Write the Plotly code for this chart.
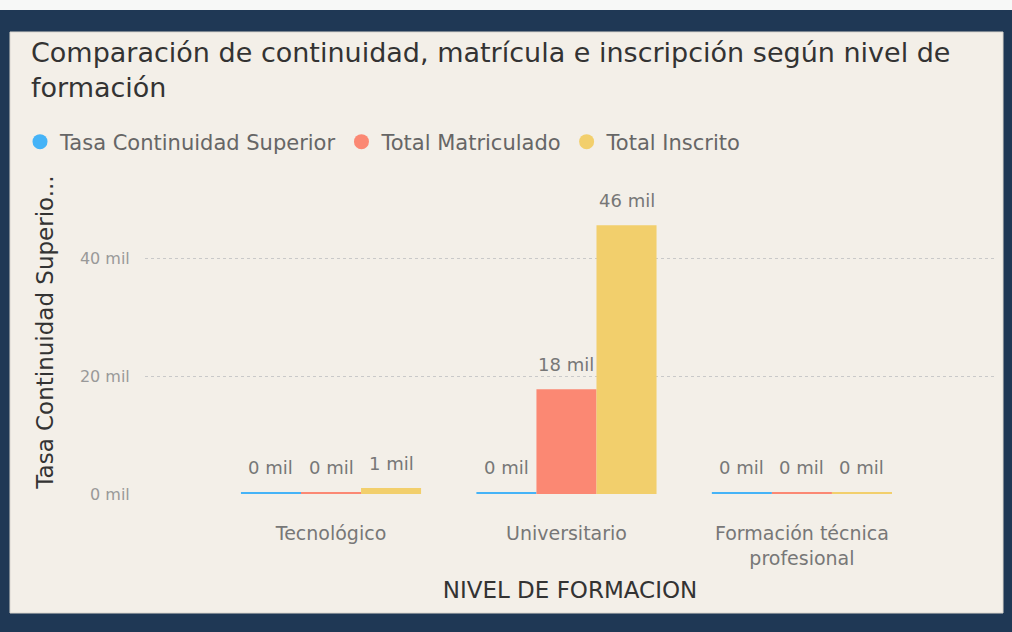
import plotly.graph_objects as go

W, H = 1012, 632

categories = ["Tecnológico", "Universitario", "Formación técnica<br>profesional"]
series_names = ["Tasa Continuidad Superior", "Total Matriculado", "Total Inscrito"]
# values in thousands ("mil")
tasa_continuidad = [0.3, 0.3, 0.3]
total_matriculado = [0.3, 17.8, 0.3]
total_inscrito = [1.0, 45.6, 0.3]
y_ticks = [0, 20, 40]
y_tick_labels = ["0 mil", "20 mil", "40 mil"]

colors = ["#45B3F7", "#FB8873", "#F2CF6C"]
series_values = [tasa_continuidad, total_matriculado, total_inscrito]

BARGAP = 0.235
FONT = "DejaVu Sans"

def px(x):
    return x / W

def py(y):
    return 1 - y / H

fig = go.Figure()
for name, vals, col in zip(series_names, series_values, colors):
    fig.add_trace(go.Bar(
        x=categories, y=vals, name=name, marker_color=col,
        marker_line_width=0, showlegend=False, hoverinfo="x+y+name",
    ))
for name, col in zip(series_names, colors):
    fig.add_trace(go.Scatter(
        x=[None], y=[None], mode="markers", name=name,
        marker=dict(symbol="circle", size=15, color=col),
    ))

# data labels above each bar, positioned in data coordinates
n = len(series_values)
w = (1 - BARGAP) / n
annotations = []
for j, vals in enumerate(series_values):
    for i, v in enumerate(vals):
        annotations.append(dict(
            x=i + (j - (n - 1) / 2) * w, y=v, xref="x", yref="y",
            text=f"{v:.0f} mil", showarrow=False, yanchor="bottom",
            yshift=12, font=dict(family=FONT, size=18, color="#777777"),
        ))

shapes = [
    dict(type="rect", xref="paper", yref="paper", x0=0, x1=1, y0=py(10), y1=1,
         fillcolor="#F7F8F7", line_width=0, layer="below"),
    dict(type="rect", xref="paper", yref="paper", x0=px(10), x1=px(1003), y0=py(613), y1=py(32),
         fillcolor="#F3EFE8", line=dict(color="#DAD6CF", width=1), layer="below"),
]

fig.update_layout(
    width=W, height=H,
    margin=dict(l=0, r=0, t=0, b=0, pad=0, autoexpand=False),
    paper_bgcolor="#1F3855", plot_bgcolor="rgba(0,0,0,0)",
    shapes=shapes, annotations=annotations,
    barmode="group", bargap=BARGAP, bargroupgap=0,
    font=dict(family=FONT, color="#666666"),
    title=dict(
        text="Comparación de continuidad, matrícula e inscripción según nivel de<br>formación",
        x=px(31), xanchor="left", y=py(62), yanchor="middle",
        font=dict(family=FONT, size=27, color="#333333"),
    ),
    legend=dict(
        orientation="h", x=px(20), xanchor="left", y=py(142), yanchor="middle",
        font=dict(family=FONT, size=21, color="#666666"),
        bgcolor="rgba(0,0,0,0)", itemwidth=30,
    ),
    xaxis=dict(
        domain=[px(145), px(995)], range=[-0.79, 2.82],
        showgrid=False, zeroline=False, showline=False,
        ticks="outside", ticklen=22, tickcolor="rgba(0,0,0,0)",
        tickfont=dict(family=FONT, size=19, color="#777777"),
        title=dict(text="NIVEL DE FORMACION", standoff=14,
                   font=dict(family=FONT, size=23, color="#333333")),
    ),
    yaxis=dict(
        domain=[py(494), py(170)], range=[0, 55],
        tickvals=y_ticks, ticktext=y_tick_labels,
        showgrid=True, gridcolor="#C9C9C9", griddash="dot", gridwidth=1,
        zeroline=False, showline=False,
        ticks="outside", ticklen=11, tickcolor="rgba(0,0,0,0)",
        tickfont=dict(family=FONT, size=16, color="#999999"),
        title=dict(text="Tasa Continuidad Superio...", standoff=19,
                   font=dict(family=FONT, size=23, color="#333333")),
    ),
)

fig.write_html(
    "out.html",
    config={"displayModeBar": False},
    post_script=(
        "document.body.style.margin='0';"
        "document.body.style.overflow='hidden';"
        "document.documentElement.style.overflow='hidden';"
    ),
)
